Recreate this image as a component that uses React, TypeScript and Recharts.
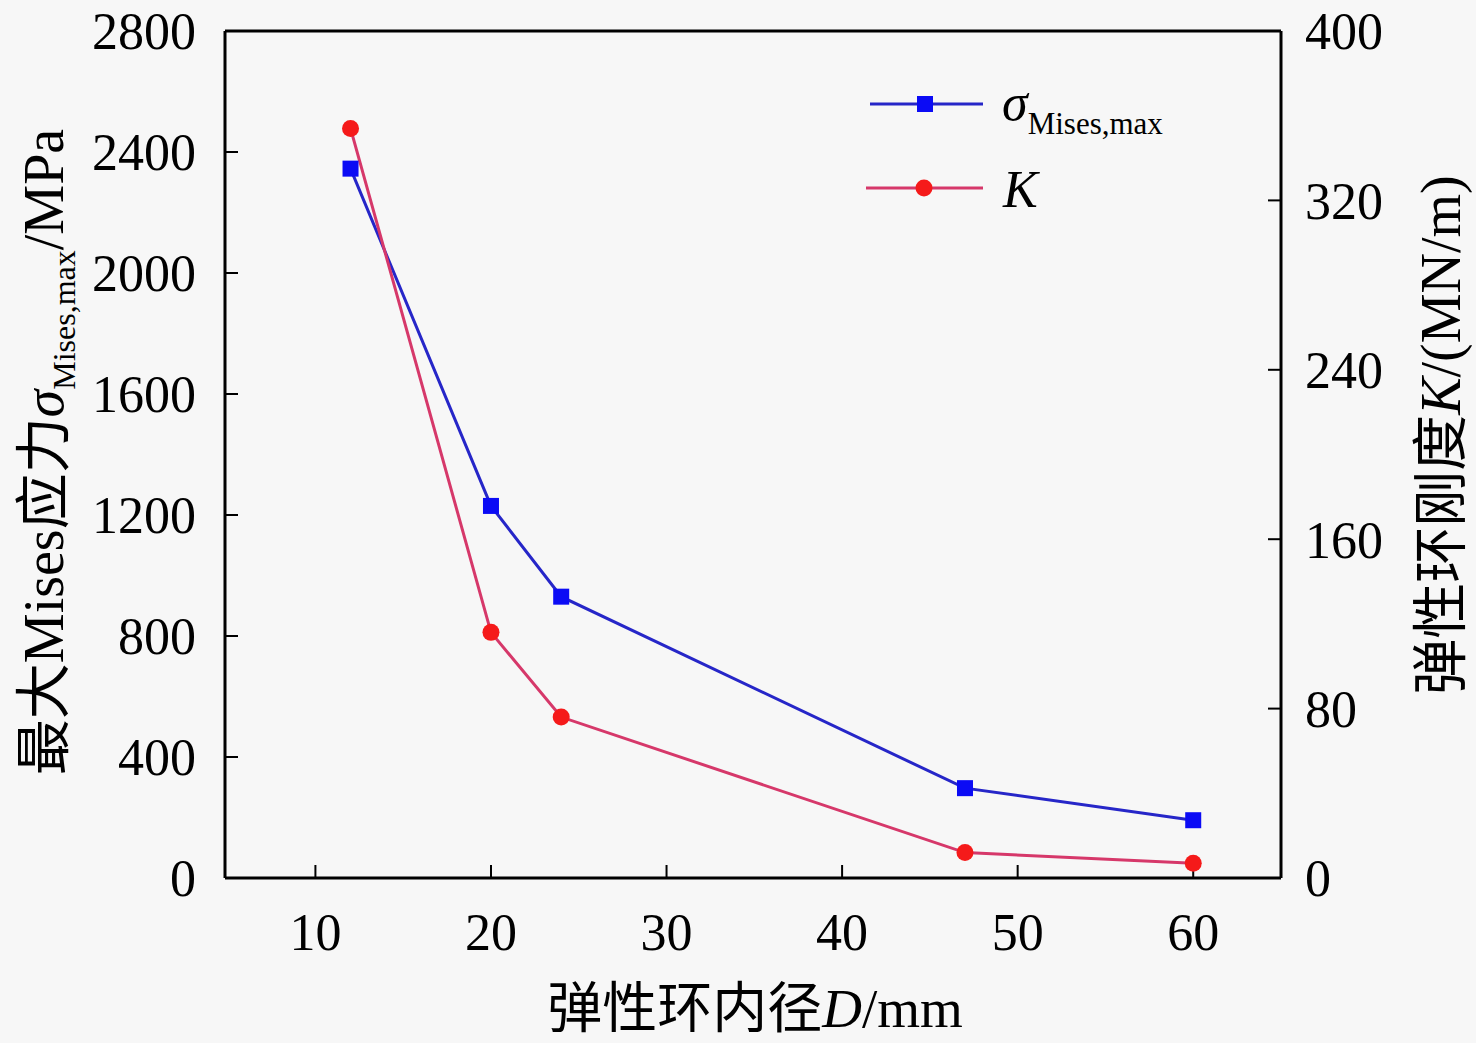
import React from 'react'
import { LineChart, Line, XAxis, YAxis, ReferenceLine, Label } from 'recharts'

// inner diameter D (mm)
const diameters = [12, 20, 24, 47, 60]
// max Mises stress (MPa)
const misesStress = [2345, 1230, 930, 297, 191]
// ring stiffness K (MN/m)
const stiffness = [354, 116, 76, 12, 7]

const xTicks = [10, 20, 30, 40, 50, 60]
const leftTicks = [0, 400, 800, 1200, 1600, 2000, 2400, 2800]
const rightTicks = [0, 80, 160, 240, 320, 400]

const FONT = '"Liberation Serif", "Times New Roman", "Noto Sans CJK SC", serif'
const BLUE_LINE = '#2626c8'
const BLUE_MARK = '#0b0bf5'
const RED_LINE = '#d6386a'
const RED_MARK = '#f51a1a'

const data = diameters.map((d, i) => ({ d, sigma: misesStress[i], k: stiffness[i] }))

const SquareDot = (props: any) => {
  const { cx, cy } = props
  if (cx == null || cy == null) return null
  return <rect x={cx - 8} y={cy - 8} width={16} height={16} fill={BLUE_MARK} />
}

const RoundDot = (props: any) => {
  const { cx, cy } = props
  if (cx == null || cy == null) return null
  return <circle cx={cx} cy={cy} r={8.5} fill={RED_MARK} />
}

// legend drawn inside the chart svg so it takes no layout space
const LegendBox = () => (
  <g transform="translate(860, 70)">
    <line x1={10} y1={34} x2={123} y2={34} stroke={BLUE_LINE} strokeWidth={3} />
    <rect x={57} y={26} width={16} height={16} fill={BLUE_MARK} />
    <text x={142} y={50} fontFamily={FONT} fontSize={52} fill="#000">
      <tspan fontStyle="italic">σ</tspan>
      <tspan fontSize={31} dy={14}>Mises,max</tspan>
    </text>
    <line x1={6} y1={118} x2={123} y2={118} stroke={RED_LINE} strokeWidth={3} />
    <circle cx={64} cy={118} r={8.5} fill={RED_MARK} />
    <text x={143} y={137} fontFamily={FONT} fontSize={52} fontStyle="italic" fill="#000">K</text>
  </g>
)

const App = () => {
  return (
    <div style={{ position: 'absolute', left: 0, top: 0, width: 1476, height: 1043, background: '#f7f7f7' }}>
      <LineChart
        width={1476}
        height={1043}
        data={data}
        margin={{ top: 31, right: 55, bottom: 65, left: 85 }}
      >
        <XAxis
          dataKey="d"
          type="number"
          domain={[4.85, 65]}
          ticks={xTicks}
          height={100}
          stroke="#000"
          strokeWidth={3}
          tickSize={-13}
          tickMargin={48}
          tickLine={{ stroke: '#000', strokeWidth: 2 }}
          tick={{ fill: '#000', fontSize: 52, fontFamily: FONT }}
        >
          <Label
            content={() => (
              <text x={755} y={1027} textAnchor="middle" fontFamily={FONT} fontSize={55} fill="#000">
                弹性环内径<tspan fontStyle="italic">D</tspan>/mm
              </text>
            )}
          />
        </XAxis>
        <YAxis
          yAxisId="left"
          domain={[0, 2800]}
          ticks={leftTicks}
          width={140}
          stroke="#000"
          strokeWidth={3}
          tickSize={-13}
          tickMargin={42}
          tickLine={{ stroke: '#000', strokeWidth: 2 }}
          tick={{ fill: '#000', fontSize: 52, fontFamily: FONT }}
        >
          <Label
            content={() => (
              <text transform="translate(63, 452) rotate(-90)" textAnchor="middle" fontFamily={FONT} fontSize={56} fill="#000">
                最大Mises应力<tspan fontStyle="italic">σ</tspan>
                <tspan fontSize={32} dy={12}>Mises,max</tspan>
                <tspan dy={-12}>/MPa</tspan>
              </text>
            )}
          />
        </YAxis>
        <YAxis
          yAxisId="right"
          orientation="right"
          domain={[0, 400]}
          ticks={rightTicks}
          width={140}
          stroke="#000"
          strokeWidth={3}
          tickSize={-13}
          tickMargin={37}
          tickLine={{ stroke: '#000', strokeWidth: 2 }}
          tick={{ fill: '#000', fontSize: 52, fontFamily: FONT }}
        >
          <Label
            content={() => (
              <g>
                <text transform="translate(1460, 435) rotate(-90)" textAnchor="middle" fontFamily={FONT} fontSize={56} fill="#000">
                  弹性环刚度<tspan fontStyle="italic">K</tspan>/(MN/m)
                </text>
                <LegendBox />
              </g>
            )}
          />
        </YAxis>
        <ReferenceLine yAxisId="left" y={2800} stroke="#000" strokeWidth={3} />
        <Line
          yAxisId="left"
          dataKey="sigma"
          stroke={BLUE_LINE}
          strokeWidth={3}
          dot={<SquareDot />}
          activeDot={false}
          isAnimationActive={false}
        />
        <Line
          yAxisId="right"
          dataKey="k"
          stroke={RED_LINE}
          strokeWidth={3}
          dot={<RoundDot />}
          activeDot={false}
          isAnimationActive={false}
        />
      </LineChart>
    </div>
  )
}

export default App
